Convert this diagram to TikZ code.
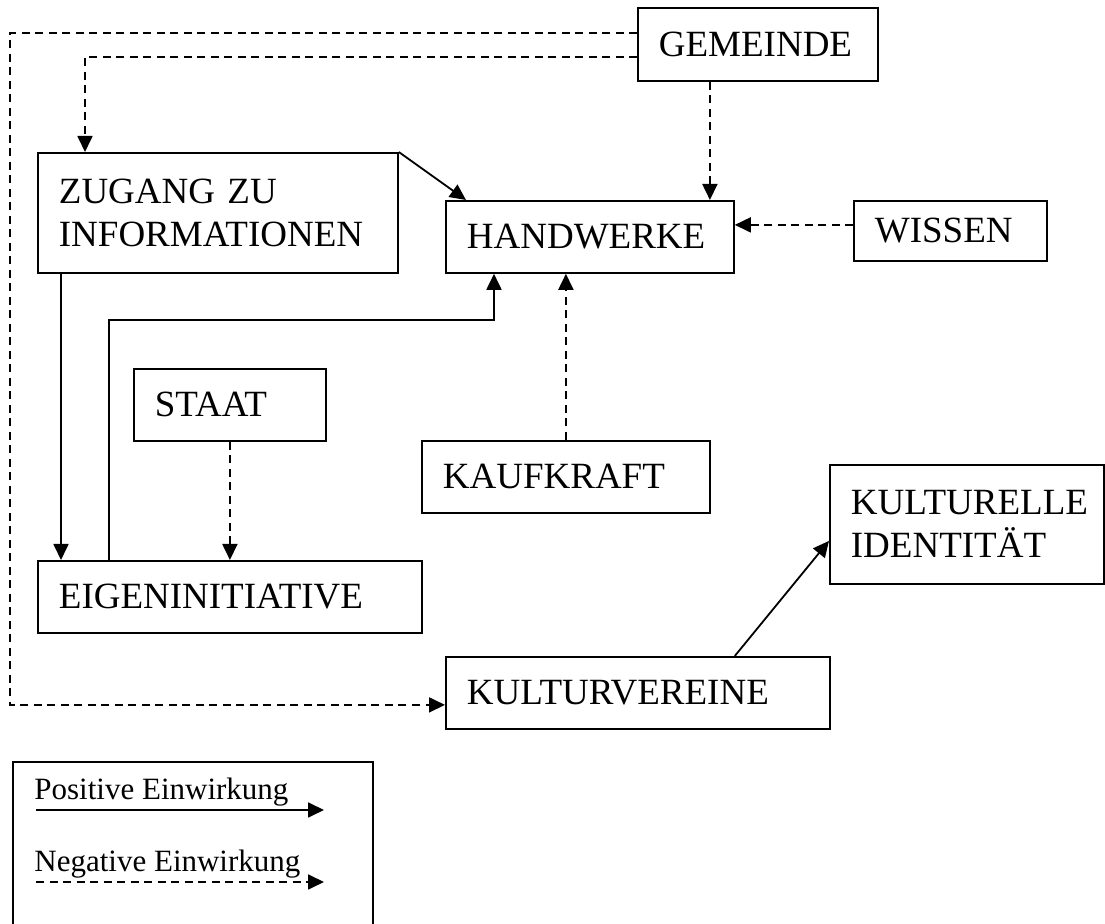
\documentclass[tikz,border=0pt]{standalone}
\usepackage{fontspec}
\setmainfont{Liberation Serif}
\usetikzlibrary{arrows.meta}
\tikzset{
  box/.style={draw, line width=0.9pt, rectangle, inner xsep=10.5pt, inner ysep=2pt,
    align=left, font=\fontsize{18.5}{21.5}\selectfont},
  posarr/.style={line width=0.9pt, -{Triangle[length=8pt,width=7.5pt]}},
  negarr/.style={posarr, dash pattern=on 4pt off 2.75pt},
  legtext/.style={inner sep=0pt, anchor=base west, font=\fontsize{15.5}{18}\selectfont},
}
\newcommand\mkbox[6]{%
  \pgfmathsetmacro\bw{(#4-#2)*0.5-21}%
  \pgfmathsetmacro\bh{(#5-#3)*0.5}%
  \node[box, anchor=north west, text width=\bw pt, minimum height=\bh pt] (#1) at (#2,#3) {#6};}
\begin{document}
\begin{tikzpicture}[x=0.5pt,y=-0.5pt]
\useasboundingbox (0,0) rectangle (1105,924);
% boxes
\mkbox{gem}{637}{7}{877}{80}{GEMEINDE}
\mkbox{zug}{37}{152}{397}{272}{ZUGANG ZU\\INFORMATIONEN}
\mkbox{hand}{445}{200}{733}{272}{HANDWERKE}
\mkbox{wis}{853}{200}{1046}{260}{WISSEN}
\mkbox{sta}{133}{368}{325}{440}{STAAT}
\mkbox{kau}{421}{440}{709}{512}{KAUFKRAFT}
\mkbox{eig}{37}{560}{421}{632}{EIGENINITIATIVE}
\mkbox{kult}{829}{464}{1103}{583}{KULTURELLE\\IDENTITÄT}
\mkbox{kv}{445}{656}{829}{728}{KULTURVEREINE}
% helper coordinates
\coordinate (lc) at (10,400);
\coordinate (ehc) at (300,320);
% connectors
\draw[negarr] ([yshift=5.75pt]gem.west) -| (lc) |- ([yshift=-6pt]kv.west);
\draw[negarr] ([yshift=-6.25pt]gem.west) -| ([xshift=24pt]zug.north west);
\draw[negarr] ([xshift=-24pt]gem.south) -- ([xshift=-24pt]gem.south |- hand.north);
\draw[posarr] (zug.north east) -- ([xshift=10.5pt]hand.north west);
\draw[negarr] ([yshift=3pt]wis.west) -- ([yshift=3pt]wis.west -| hand.east);
\draw[posarr] ([xshift=12pt]zug.south west) -- ([xshift=12pt]zug.south west |- eig.north);
\draw[posarr] ([xshift=36pt]eig.north west) |- (ehc) -| ([xshift=24.5pt]hand.south west);
\draw[negarr] (sta.south) -- (sta.south |- eig.north);
\draw[negarr] (kau.north) -- (kau.north |- hand.south);
\draw[posarr] ([xshift=-48pt]kv.north east) -- ([yshift=-8.25pt]kult.west);
% legend
\draw[line width=0.9pt] (13,924) |- (373,762) -- (373,924);
\node[legtext] (lpos) at (34,800) {Positive Einwirkung};
\node[legtext] (lneg) at (34,872) {Negative Einwirkung};
\coordinate (lp1) at (36,810); \coordinate (lp2) at (324,810);
\coordinate (ln1) at (36,882); \coordinate (ln2) at (324,882);
\draw[posarr] (lp1) -- (lp2);
\draw[negarr] (ln1) -- (ln2);
\end{tikzpicture}
\end{document}
